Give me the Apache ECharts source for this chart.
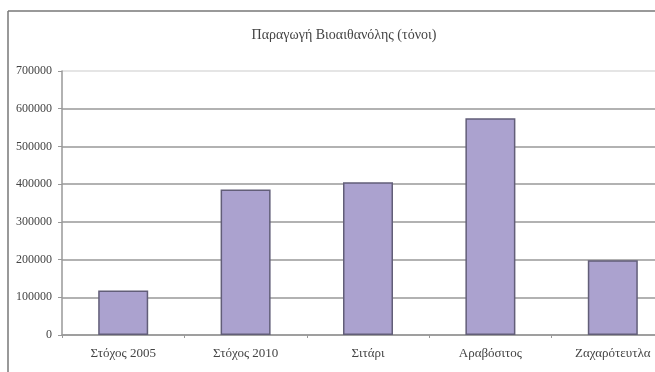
<!DOCTYPE html>
<html>
<head>
<meta charset="utf-8">
<script src="https://cdn.jsdelivr.net/npm/echarts@6/dist/echarts.min.js"></script>
<style>html,body{margin:0;padding:0;background:#fff;overflow:hidden;width:655px;height:372px}#c{width:674px;height:372px}</style>
</head>
<body>
<div id="c"></div>
<script>
const titleText = 'Παραγωγή Βιοαιθανόλης (τόνοι)';
const categories = ['Στόχος 2005', 'Στόχος 2010', 'Σιτάρι', 'Αραβόσιτος', 'Ζαχαρότευτλα'];
const values = [118000, 386000, 405000, 575000, 198000];
const yTicks = [0, 100000, 200000, 300000, 400000, 500000, 600000, 700000];

const chart = echarts.init(document.getElementById('c'));
const font = 'Liberation Serif';
chart.setOption({
  animation: false,
  backgroundColor: '#fff',
  title: {
    text: titleText, left: 339, top: 23, textAlign: 'center',
    textStyle: { fontFamily: font, fontSize: 14, fontWeight: 'normal', color: '#444' }
  },
  graphic: [
    { type: 'line', shape: { x1: 8, y1: 11, x2: 674, y2: 11 }, style: { stroke: '#777', lineWidth: 1.5 } },
    { type: 'line', shape: { x1: 8, y1: 11, x2: 8, y2: 372 }, style: { stroke: '#777', lineWidth: 1.5 } }
  ],
  grid: { left: 62, right: 0, top: 71, bottom: 37 },
  xAxis: {
    type: 'category', data: categories,
    axisLine: { lineStyle: { color: '#999', width: 1.5 } },
    axisTick: { show: true, length: 3, lineStyle: { color: '#999' } },
    axisLabel: { fontFamily: font, fontSize: 13, color: '#444', margin: 12, interval: 0 }
  },
  yAxis: {
    type: 'value', min: 0, max: 700000, interval: 100000,
    axisLine: { show: true, lineStyle: { color: '#999', width: 1.5 } },
    axisTick: { show: true, length: 4, lineStyle: { color: '#999' } },
    axisLabel: { fontFamily: font, fontSize: 12, color: '#444', margin: 10,
      formatter: v => yTicks.includes(v) ? String(v) : '' },
    splitLine: { lineStyle: { color: ['#999', '#999', '#999', '#999', '#999', '#999', '#999', '#ddd'], width: 1.5 } }
  },
  series: [{
    type: 'bar', data: values, barWidth: 50,
    itemStyle: { color: '#aba2cf', borderColor: '#625e78', borderWidth: 1.5 }
  }]
});
</script>
</body>
</html>
